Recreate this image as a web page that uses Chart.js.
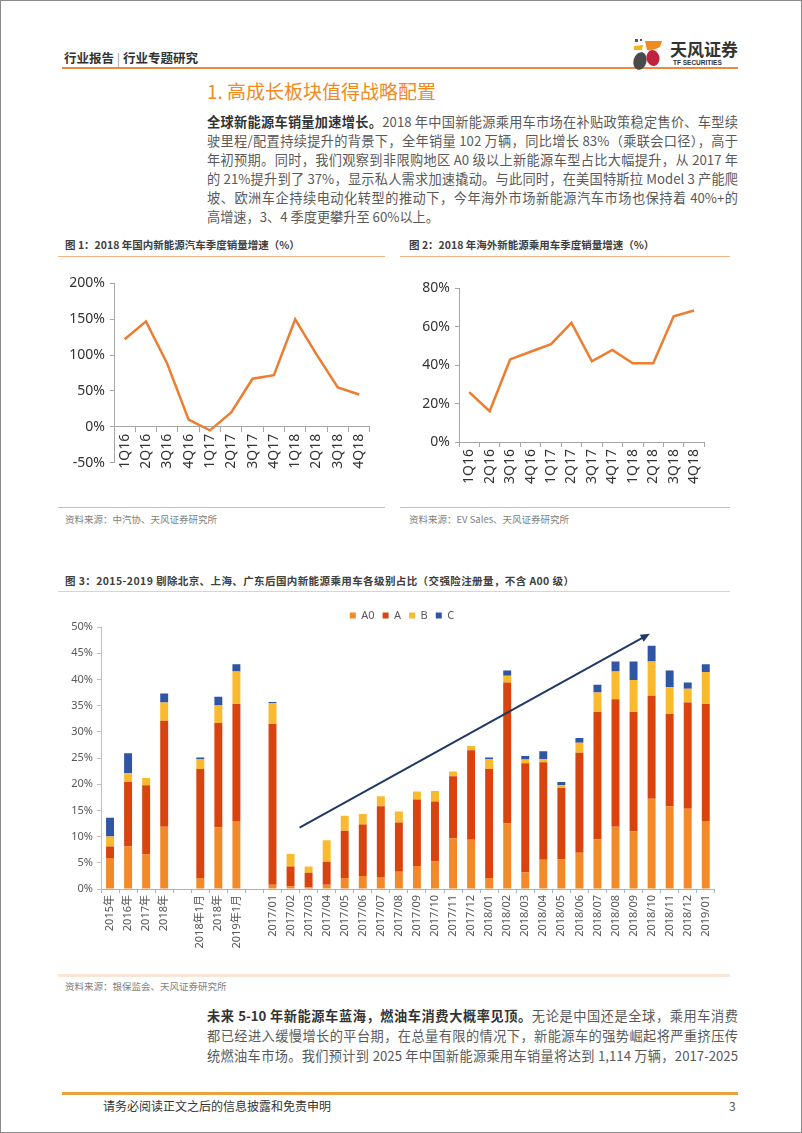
<!DOCTYPE html>
<html>
<head>
<meta charset="utf-8">
<script src="https://cdn.jsdelivr.net/npm/chart.js@4.4.1/dist/chart.umd.min.js"></script>
<style>
  body { margin: 0; width: 802px; height: 1133px; position: relative; background: #fff; overflow: hidden;
         font-family: "Noto Sans CJK SC", "Noto Sans", sans-serif; color: #595959; }
  .abs { position: absolute; white-space: nowrap; }
  .frame { left: 0; top: 0; width: 800px; height: 1131px; border: 1px solid #8a8a8a; }
  .line { position: absolute; left: 207px; width: 531px; font-size: 13.2px; line-height: 19px; height: 19px;
          white-space: nowrap; text-align: justify; text-align-last: justify; color: #595959; }
  .line.last { text-align-last: left; }
  .line b { color: #333; }
  .figtitle { font-size: 10.5px; font-weight: bold; color: #404040; }
  .source { font-size: 9.5px; color: #7f7f7f; }
  .rule { position: absolute; height: 1px; background: #f4b183; }
  .box { position: absolute; }
</style>
</head>
<body>
<div class="abs frame"></div>

<!-- header -->
<div class="abs" style="left:64px;top:48px;font-size:12.5px;font-weight:bold;color:#333;">行业报告 <span style="color:#999;font-weight:normal">|</span> 行业专题研究</div>
<div class="abs" style="left:62px;top:67px;width:676px;height:2px;background:#ee8a3a;"></div>
<svg class="abs" style="left:631px;top:38px" width="36" height="34" viewBox="0 0 36 34">
  <rect x="4" y="1" width="3" height="3" fill="#555"/>
  <rect x="9" y="1" width="2" height="2" fill="#555"/>
  <path d="M3 8 L12 7 L11 12 L3 12 Z" fill="#f5b21b"/>
  <path d="M14 3 L31 3 L29 9 Q23 13 16 12 Z" fill="#f08a24"/>
  <ellipse cx="9" cy="23" rx="6.5" ry="9" fill="#4a4a4a" transform="rotate(15 9 23)"/>
  <ellipse cx="22" cy="20" rx="6.5" ry="8" fill="#c0233c" transform="rotate(-10 22 20)"/>
</svg>
<div class="abs" style="left:670px;top:36px;font-size:17px;font-weight:bold;color:#333;">天风证券</div>
<div class="abs" style="left:673px;top:59px;font-size:6.5px;font-weight:bold;color:#333;font-family:'Liberation Sans',sans-serif;">TF SECURITIES</div>

<!-- section heading and text -->
<div class="abs" style="left:207px;top:77px;font-size:19px;color:#f08a24;">1. 高成长板块值得战略配置</div>
<div class="line" style="top:112px"><b>全球新能源车销量加速增长。</b>2018 年中国新能源乘用车市场在补贴政策稳定售价、车型续</div>
<div class="line" style="top:131px">驶里程/配置持续提升的背景下，全年销量 102 万辆，同比增长 83%（乘联会口径），高于</div>
<div class="line" style="top:150px">年初预期。同时，我们观察到非限购地区 A0 级以上新能源车型占比大幅提升，从 2017 年</div>
<div class="line" style="top:169px">的 21%提升到了 37%，显示私人需求加速撬动。与此同时，在美国特斯拉 Model 3 产能爬</div>
<div class="line" style="top:188px">坡、欧洲车企持续电动化转型的推动下，今年海外市场新能源汽车市场也保持着 40%+的</div>
<div class="line last" style="top:207px">高增速，3、4 季度更攀升至 60%以上。</div>

<!-- figure 1 / 2 frames -->
<div class="abs figtitle" style="left:65px;top:237px;">图 1：2018 年国内新能源汽车季度销量增速（%）</div>
<div class="abs figtitle" style="left:409px;top:237px;">图 2：2018 年海外新能源乘用车季度销量增速（%）</div>
<div class="rule" style="left:58px;top:256px;width:327px;"></div>
<div class="rule" style="left:400px;top:256px;width:330px;"></div>
<div class="box" style="left:58px;top:270px;width:320px;height:206px;"><canvas id="chart1"></canvas></div>
<div class="box" style="left:400px;top:275px;width:313px;height:211px;"><canvas id="chart2"></canvas></div>
<div class="rule" style="left:58px;top:507px;width:327px;"></div>
<div class="rule" style="left:400px;top:507px;width:330px;"></div>
<div class="abs source" style="left:65px;top:512px;">资料来源：中汽协、天风证券研究所</div>
<div class="abs source" style="left:409px;top:512px;">资料来源：EV Sales、天风证券研究所</div>

<!-- figure 3 -->
<div class="abs figtitle" style="left:65px;top:573px;letter-spacing:0.4px;">图 3：2015-2019 剔除北京、上海、广东后国内新能源乘用车各级别占比（交强险注册量，不含 A00 级）</div>
<div class="rule" style="left:58px;top:591px;width:672px;background:#f8cbad;"></div>
<div class="box" style="left:45px;top:598px;width:676px;height:357px;"><canvas id="chart3"></canvas></div>
<div class="abs" style="left:58px;top:974px;width:672px;height:3px;background:#fbe5d6;"></div>
<div class="abs source" style="left:65px;top:979px;">资料来源：银保监会、天风证券研究所</div>

<!-- closing paragraph -->
<div class="line" style="top:1006px"><b>未来 5-10 年新能源车蓝海，燃油车消费大概率见顶。</b>无论是中国还是全球，乘用车消费</div>
<div class="line" style="top:1026px">都已经进入缓慢增长的平台期，在总量有限的情况下，新能源车的强势崛起将严重挤压传</div>
<div class="line" style="top:1046px">统燃油车市场。我们预计到 2025 年中国新能源乘用车销量将达到 1,114 万辆，2017-2025</div>

<!-- footer -->
<div class="abs" style="left:62px;top:1092px;width:676px;height:2.5px;background:#e8a33d;"></div>
<div class="abs" style="left:103px;top:1097px;font-size:12px;color:#333;">请务必阅读正文之后的信息披露和免责申明</div>
<div class="abs" style="left:729px;top:1097px;font-size:12px;color:#555;">3</div>

<script>
var quarters = ["1Q16", "2Q16", "3Q16", "4Q16", "1Q17", "2Q17", "3Q17", "4Q17", "1Q18", "2Q18", "3Q18", "4Q18"];
var domesticGrowth = [122, 147, 88, 10, -5, 20, 67, 72, 150, 101, 55, 45];
var overseasGrowth = [26, 16, 43, 47, 51, 62, 42, 48, 41, 41, 65.5, 68.5];

// figure 3: share by class, %; "" / null are the gaps between groups
var classLabels = ["2015年", "2016年", "2017年", "2018年", "", "2018年1月", "2018年", "2019年1月", "",
  "2017/01", "2017/02", "2017/03", "2017/04", "2017/05", "2017/06", "2017/07", "2017/08", "2017/09", "2017/10", "2017/11", "2017/12",
  "2018/01", "2018/02", "2018/03", "2018/04", "2018/05", "2018/06", "2018/07", "2018/08", "2018/09", "2018/10", "2018/11", "2018/12",
  "2019/01"];
var shareA0 = [5.9, 8.1, 6.6, 11.9, null, 2.1, 11.8, 13.0, null,
  0.8, 0.5, 0.3, 0.8, 2.1, 2.5, 2.3, 3.3, 4.4, 5.3, 9.7, 9.4,
  2.1, 12.5, 3.2, 5.6, 5.7, 6.9, 9.5, 11.9, 11.0, 17.2, 15.8, 15.3,
  13.0];
var shareA = [2.2, 12.3, 13.2, 20.2, null, 20.8, 19.9, 22.3, null,
  30.7, 3.8, 2.8, 4.4, 9.0, 9.8, 13.5, 9.4, 12.7, 11.4, 11.8, 17.1,
  20.8, 26.9, 20.8, 18.6, 13.6, 19.1, 24.3, 24.3, 22.8, 19.7, 17.6, 20.3,
  22.3];
var shareB = [1.9, 1.7, 1.4, 3.5, null, 1.9, 3.3, 6.2, null,
  4.0, 2.4, 1.2, 4.1, 2.9, 2.0, 1.9, 2.1, 1.5, 2.0, 0.9, 0.8,
  1.9, 1.3, 0.7, 0.6, 0.5, 1.9, 3.7, 5.3, 6.1, 6.5, 5.1, 2.6,
  6.1];
var shareC = [3.6, 3.8, 0, 1.7, null, 0.3, 1.7, 1.4, null,
  0.2, 0, 0, 0, 0, 0, 0, 0, 0, 0, 0, 0,
  0.3, 1.0, 0.7, 1.5, 0.6, 0.9, 1.5, 1.9, 3.5, 3.0, 3.2, 1.2,
  1.5];
// trend arrow: [category index, %]
var arrowStart = [10.5, 11.7];
var arrowEnd = [29.9, 48.7];

var axisGray = "#a6a6a6";
var numFont = { family: "'Noto Sans', 'Noto Sans CJK SC', sans-serif" };

function lineChart(id, values, yMin, yMax, step, yWidth, xAtZero, xHeight) {
  new Chart(document.getElementById(id), {
    type: "line",
    data: {
      labels: quarters,
      datasets: [{ data: values, borderColor: "#ed7d31", borderWidth: 2.5, pointRadius: 0, tension: 0, fill: false }]
    },
    options: {
      responsive: true,
      maintainAspectRatio: false,
      animation: false,
      layout: { padding: { top: 13, right: 2, left: 0, bottom: 0 } },
      plugins: { legend: { display: false }, tooltip: { enabled: false } },
      scales: {
        x: {
          offset: true,
          position: xAtZero ? { y: 0 } : "bottom",
          grid: { offset: true, drawOnChartArea: false, tickLength: 5, color: axisGray },
          border: { color: axisGray },
          ticks: { autoSkip: false, minRotation: 90, maxRotation: 90, padding: 2, color: "#333",
                   font: Object.assign({ size: 14 }, numFont) },
          afterFit: function (s) { s.height = xHeight; }
        },
        y: {
          min: yMin,
          max: yMax,
          grid: { drawOnChartArea: false, tickLength: 4, color: axisGray },
          border: { color: axisGray },
          ticks: { stepSize: step, padding: 5, color: "#333", font: Object.assign({ size: 14 }, numFont),
                   callback: function (v) { return v + "%"; } },
          afterFit: function (s) { s.width = yWidth; }
        }
      }
    }
  });
}

lineChart("chart1", domesticGrowth, -50, 200, 50, 56, true, 40);
lineChart("chart2", overseasGrowth, 0, 80, 20, 59, false, 44);

// arrow drawn on top of the bars, and the legend nudged like the original
var chartExtras = {
  id: "chartExtras",
  afterLayout: function (chart) {
    chart.legend.left += 20;
    chart.legend.right += 20;
    chart.legend.top += 4;
    chart.legend.bottom += 4;
  },
  afterDatasetsDraw: function (chart) {
    var ctx = chart.ctx, x = chart.scales.x, y = chart.scales.y;
    var x1 = x.getPixelForValue(arrowStart[0]), y1 = y.getPixelForValue(arrowStart[1]);
    var x2 = x.getPixelForValue(arrowEnd[0]), y2 = y.getPixelForValue(arrowEnd[1]);
    var ang = Math.atan2(y2 - y1, x2 - x1), head = 10;
    ctx.save();
    ctx.strokeStyle = "#1f3864";
    ctx.fillStyle = "#1f3864";
    ctx.lineWidth = 2;
    ctx.beginPath();
    ctx.moveTo(x1, y1);
    ctx.lineTo(x2 - Math.cos(ang) * head * 0.8, y2 - Math.sin(ang) * head * 0.8);
    ctx.stroke();
    ctx.beginPath();
    ctx.moveTo(x2, y2);
    ctx.lineTo(x2 - head * Math.cos(ang - 0.4), y2 - head * Math.sin(ang - 0.4));
    ctx.lineTo(x2 - head * Math.cos(ang + 0.4), y2 - head * Math.sin(ang + 0.4));
    ctx.closePath();
    ctx.fill();
    ctx.restore();
  }
};

function barSet(label, data, color) {
  return { label: label, data: data, backgroundColor: color, barPercentage: 0.44, categoryPercentage: 1 };
}

new Chart(document.getElementById("chart3"), {
  type: "bar",
  data: {
    labels: classLabels,
    datasets: [
      barSet("A0", shareA0, "#f28a2a"),
      barSet("A", shareA, "#d9440e"),
      barSet("B", shareB, "#fbb92e"),
      barSet("C", shareC, "#2f55a4")
    ]
  },
  options: {
    responsive: true,
    maintainAspectRatio: false,
    animation: false,
    layout: { padding: { top: 0, right: 2, left: 0, bottom: 0 } },
    plugins: {
      tooltip: { enabled: false },
      legend: {
        position: "top",
        labels: { boxWidth: 6, boxHeight: 6, padding: 8, color: "#595959",
                  font: Object.assign({ size: 11 }, numFont) }
      }
    },
    scales: {
      x: {
        stacked: true,
        grid: { offset: true, drawOnChartArea: false, tickLength: 4, color: "#9db4d3" },
        border: { color: "#9db4d3" },
        ticks: { autoSkip: false, minRotation: 90, maxRotation: 90, padding: 2, color: "#595959",
                 font: Object.assign({ size: 11 }, numFont) },
        afterFit: function (s) { s.height = 66; }
      },
      y: {
        stacked: true,
        min: 0,
        max: 50,
        grid: { drawOnChartArea: false, tickLength: 4, color: "#bfbfbf" },
        border: { color: "#bfbfbf" },
        ticks: { stepSize: 5, padding: 4, color: "#595959", font: Object.assign({ size: 11 }, numFont),
                 callback: function (v) { return v + "%"; } },
        afterFit: function (s) { s.width = 56; }
      }
    }
  },
  plugins: [chartExtras]
});
</script>
</body>
</html>
